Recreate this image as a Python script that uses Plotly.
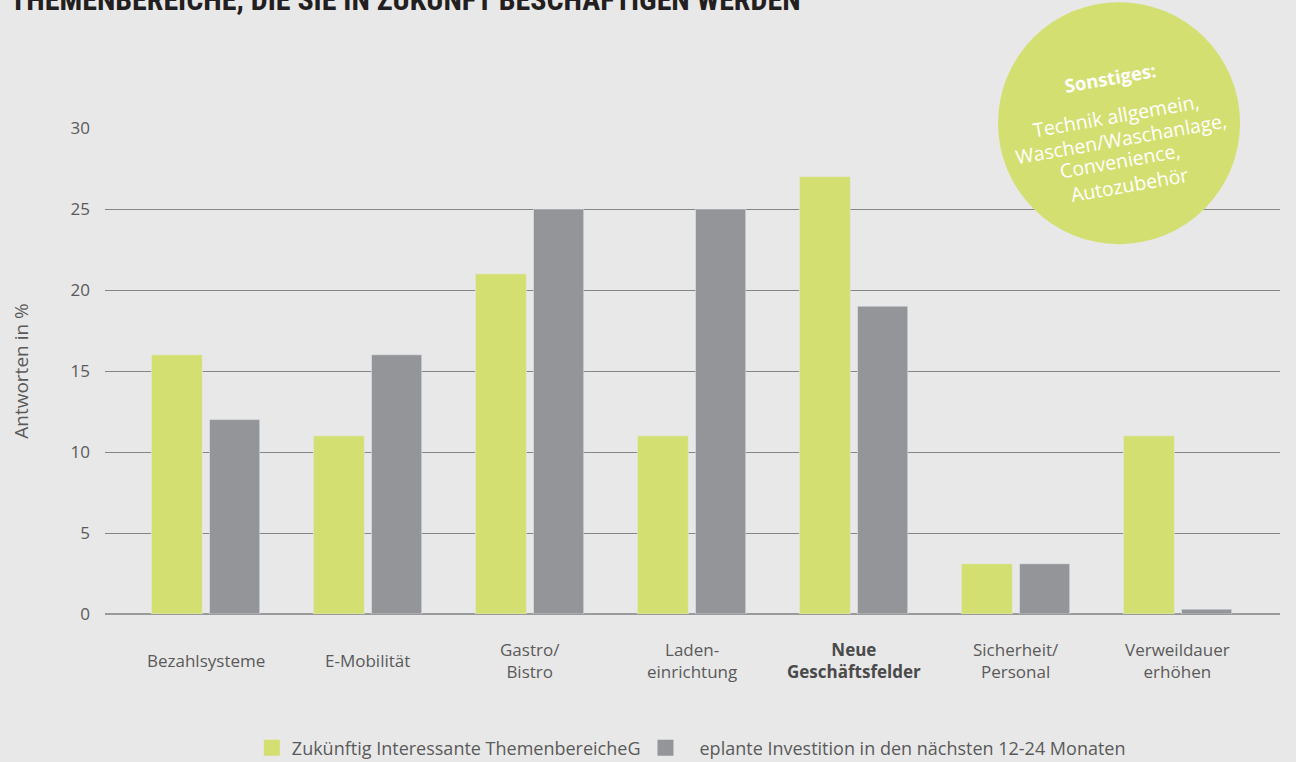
import plotly.graph_objects as go

categories = ["Bezahlsysteme", "E-Mobilität", "Gastro/<br>Bistro", "Laden-<br>einrichtung",
              "<b>Neue<br>Geschäftsfelder</b>", "Sicherheit/<br>Personal", "Verweildauer<br>erhöhen"]
interessant = [16, 11, 21, 11, 27, 3.1, 11]
investition = [12, 16, 25, 25, 19, 3.1, 0.3]
series_names = ["Zukünftig Interessante ThemenbereicheG", "   eplante Investition in den nächsten 12-24 Monaten"]
yticks = [0, 5, 10, 15, 20, 25, 30]
title_text = "THEMENBEREICHE, DIE SIE IN ZUKUNFT BESCHÄFTIGEN WERDEN"
bubble_head = "Sonstiges:"
bubble_lines = ["Technik allgemein,", "Waschen/Waschanlage,", "Convenience,", "Autozubehör"]

GREEN = "#d4df72"
GRAY = "#939598"
BG = "#e8e8e8"
TXT = "#5a5a5a"
FONT = "Open Sans, Noto Sans, sans-serif"

xs = list(range(len(categories)))

fig = go.Figure()
fig.add_trace(go.Bar(x=xs, y=interessant, name=series_names[0], marker_color=GREEN,
                     width=0.315, offset=-0.337, showlegend=False))
fig.add_trace(go.Bar(x=xs, y=investition, name=series_names[1], marker_color=GRAY,
                     width=0.31, offset=0.022, showlegend=False))
# legend entries with larger squares
for nm, col in zip(series_names, [GREEN, GRAY]):
    fig.add_trace(go.Scatter(x=[None], y=[None], mode="markers", name=nm,
                             marker=dict(symbol="square", size=20, color=col)))

annotations = []
for x, lab in zip(xs, categories):
    col = "#4a4a4a" if "<b>" in lab else TXT
    annotations.append(dict(x=x, xref="x", y=-0.0947, yref="paper", text=lab, showarrow=False,
                            xanchor="center", yanchor="middle",
                            font=dict(family=FONT, size=17, color=col)))

annotations.append(dict(x=-0.0826, xref="paper", y=1.2634, yref="paper", text="<b>" + title_text + "</b>",
                        showarrow=False, xanchor="left", yanchor="middle",
                        font=dict(family="Liberation Sans Narrow, Roboto Condensed, Arial Narrow, sans-serif",
                                  size=30, color="#231f20")))


def px2paper(px, py):
    return (px - 105) / 1175, (614 - py) / 486


bx, by = px2paper(1110, 78)
annotations.append(dict(x=bx, xref="paper", y=by, yref="paper", text="<b>" + bubble_head + "</b>",
                        showarrow=False, xanchor="center", yanchor="middle", textangle=-10,
                        font=dict(family=FONT, size=18.5, color="white")))
for (cx, cy), line in zip([(1116, 116), (1121, 138), (1120, 160), (1129, 184)], bubble_lines):
    ax, ay = px2paper(cx, cy)
    annotations.append(dict(x=ax, xref="paper", y=ay, yref="paper", text=line,
                            showarrow=False, xanchor="center", yanchor="middle", textangle=-10,
                            font=dict(family=FONT, size=19.5, color="white")))

shapes = [dict(type="circle", xref="paper", yref="paper", x0=0.760, x1=0.966, y0=0.761, y1=1.259,
               fillcolor=GREEN, line=dict(width=0), layer="above")]

fig.update_layout(
    width=1296, height=762,
    paper_bgcolor=BG, plot_bgcolor=BG,
    margin=dict(l=105, r=16, t=128, b=148, autoexpand=False),
    barmode="overlay",
    font=dict(family=FONT, size=16, color=TXT),
    xaxis=dict(range=[-0.623, 6.63], showticklabels=False, showgrid=False, zeroline=False,
               showline=False, fixedrange=True),
    yaxis=dict(range=[0, 30], tickvals=yticks, showgrid=True, gridcolor="#858585", gridwidth=1,
               zeroline=True, zerolinecolor="#9a9a9a", zerolinewidth=2,
               ticks="", ticklabelstandoff=14,
               tickfont=dict(family=FONT, size=17, color=TXT),
               title=dict(text="Antworten in %", font=dict(family=FONT, size=19, color=TXT), standoff=36)),
    legend=dict(orientation="h", x=0.499, xanchor="center", y=-0.276, yanchor="middle",
                font=dict(family=FONT, size=18, color=TXT), itemsizing="trace",
                bgcolor="rgba(0,0,0,0)"),
    annotations=annotations,
    shapes=shapes,
)

fig.write_html("out.html", config={"displayModeBar": False},
               post_script="document.body.style.margin='0';document.body.style.overflow='hidden';")
